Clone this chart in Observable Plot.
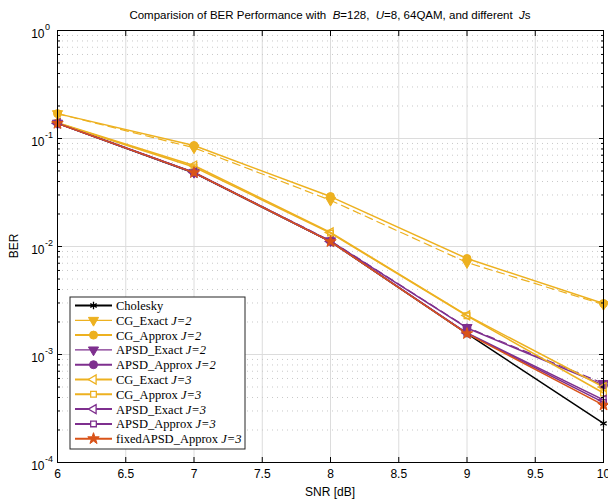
<!DOCTYPE html>
<html><head><meta charset="utf-8">
<script src="https://cdn.jsdelivr.net/npm/d3@7"></script>
<script src="https://cdn.jsdelivr.net/npm/@observablehq/plot@0.6"></script>
<style>body{margin:0;background:#fff} svg{display:block}</style>
</head><body><div id="chart"></div>
<script>
// ---- data ----
const snr = [6, 7, 8, 9, 10];
const cholesky        = [0.138, 0.0480, 0.0111, 0.00156, 0.00023];
const cgExactJ2       = [0.170, 0.0820, 0.0268, 0.00710, 0.00290];
const cgApproxJ2      = [0.170, 0.0861, 0.0290, 0.00774, 0.00297];
const apsdExactJ2     = [0.139, 0.0486, 0.0113, 0.00178, 0.00054];
const apsdApproxJ2    = [0.139, 0.0485, 0.0112, 0.00176, 0.00052];
const cgExactJ3       = [0.140, 0.0562, 0.0135, 0.00230, 0.00050];
const cgApproxJ3      = [0.139, 0.0545, 0.0133, 0.00228, 0.00044];
const apsdExactJ3     = [0.138, 0.0484, 0.0111, 0.00158, 0.00038];
const apsdApproxJ3    = [0.138, 0.0482, 0.0111, 0.00157, 0.00036];
const fixedApsdApproxJ3 = [0.138, 0.0483, 0.0111, 0.00156, 0.00034];

const seriesNames = ["Cholesky", "CG_Exact", "CG_Approx", "APSD_Exact", "APSD_Approx",
  "CG_Exact", "CG_Approx", "APSD_Exact", "APSD_Approx", "fixedAPSD_Approx"];
const seriesJ = ["", "J=2", "J=2", "J=2", "J=2", "J=3", "J=3", "J=3", "J=3", "J=3"];
const seriesValues = [cholesky, cgExactJ2, cgApproxJ2, apsdExactJ2, apsdApproxJ2,
  cgExactJ3, cgApproxJ3, apsdExactJ3, apsdApproxJ3, fixedApsdApproxJ3];

const xTicks = [6, 6.5, 7, 7.5, 8, 8.5, 9, 9.5, 10];
const xTickLabels = ["6", "6.5", "7", "7.5", "8", "8.5", "9", "9.5", "10"];
const yDecades = [1e-4, 1e-3, 1e-2, 1e-1, 1];
const yExponents = ["-4", "-3", "-2", "-1", "0"];
const minorMultipliers = [2, 3, 4, 5, 6, 7, 8, 9];

// ---- styles ----
const BLACK = "#000000", YEL = "#EDB120", PUR = "#7E2F8E", ORG = "#D95319";
const triDown = {draw(c, s) { const R = Math.sqrt(s / Math.PI) * 1.3; c.moveTo(0, R); c.lineTo(-R * 0.866, -R / 2); c.lineTo(R * 0.866, -R / 2); c.closePath(); }};
const triLeft = {draw(c, s) { const R = Math.sqrt(s / Math.PI) * 1.3; c.moveTo(-R, 0); c.lineTo(R / 2, -R * 0.866); c.lineTo(R / 2, R * 0.866); c.closePath(); }};
const styles = [
  {color: BLACK, symbol: "asterisk", filled: false, dash: null, w: 1.5, r: 3.5},
  {color: YEL, symbol: triDown, filled: true, dash: "8,5", w: 1.2, r: 4.5},
  {color: YEL, symbol: "circle", filled: true, dash: null, w: 1.5, r: 4},
  {color: PUR, symbol: triDown, filled: true, dash: "8,5", w: 1.2, r: 4.5},
  {color: PUR, symbol: "circle", filled: true, dash: null, w: 1.5, r: 4},
  {color: YEL, symbol: triLeft, filled: false, dash: null, w: 1.5, r: 4},
  {color: YEL, symbol: "square", filled: false, dash: null, w: 1.5, r: 3.2},
  {color: PUR, symbol: triLeft, filled: false, dash: null, w: 1.5, r: 4},
  {color: PUR, symbol: "square", filled: false, dash: null, w: 1.5, r: 3.2},
  {color: ORG, symbol: "star", filled: true, dash: null, w: 1.5, r: 3.6}
];

const yMinor = yDecades.slice(0, -1).flatMap(d => minorMultipliers.map(m => d * m));

const marks = [
  Plot.gridX(xTicks, {stroke: "#dcdcdc", strokeOpacity: 1, strokeWidth: 1}),
  Plot.gridY(yMinor, {stroke: "#c8c8c8", strokeOpacity: 1, strokeDasharray: "1,4"}),
  Plot.gridY(yDecades, {stroke: "#dcdcdc", strokeOpacity: 1})
];
seriesValues.forEach((vals, i) => {
  const st = styles[i];
  const data = snr.map((x, k) => ({x, y: vals[k]}));
  marks.push(Plot.line(data, {x: "x", y: "y", stroke: st.color, strokeWidth: st.w, strokeDasharray: st.dash}));
});
seriesValues.forEach((vals, i) => {
  const st = styles[i];
  const data = snr.map((x, k) => ({x, y: vals[k]}));
  marks.push(Plot.dot(data, {x: "x", y: "y", symbol: st.symbol, r: st.r,
    fill: st.filled ? st.color : "none", stroke: st.color, strokeWidth: st.filled ? 1 : 1.3}));
});
marks.push(
  Plot.frame({stroke: "#000", strokeWidth: 1}),
  Plot.axisX(xTicks, {anchor: "bottom", tickSize: -5, tickPadding: 12, tickFormat: (d, i) => xTickLabels[i], fontSize: 12, stroke: "#000"}),
  Plot.axisX(xTicks, {anchor: "top", tickSize: -5, tickFormat: () => "", stroke: "#000"}),
  Plot.axisY(yDecades, {anchor: "left", tickSize: -5, tickFormat: () => "", stroke: "#000"}),
  Plot.axisY(yDecades, {anchor: "right", tickSize: -5, tickFormat: () => "", stroke: "#000"}),
  Plot.axisY(yMinor, {anchor: "left", tickSize: -3, tickFormat: () => "", stroke: "#000"}),
  Plot.axisY(yMinor, {anchor: "right", tickSize: -3, tickFormat: () => "", stroke: "#000"}),
  Plot.text(yDecades, {frameAnchor: "left", y: d => d, text: () => "10", textAnchor: "end", dx: -13, dy: 3.5, fontSize: 12, fill: "#000"}),
  Plot.text(yDecades, {frameAnchor: "left", y: d => d, text: (d, i) => yExponents[i], textAnchor: "start", dx: -12.5, dy: -3, fontSize: 9, fill: "#000"})
);

const W = 608, H = 499, ML = 57, MR = 5, MT = 30, MB = 37;
const chart = Plot.plot({
  width: W, height: H,
  marginLeft: ML, marginRight: MR, marginTop: MT, marginBottom: MB,
  style: {fontFamily: "'Liberation Sans', Arial, sans-serif", fontSize: "12px", color: "#000", background: "#fff", overflow: "visible"},
  x: {domain: [6, 10], axis: null, label: null},
  y: {type: "log", domain: [1e-4, 1], axis: null, label: null},
  marks
});
document.getElementById("chart").appendChild(chart);

// ---- title, axis labels, legend ----
const svg = d3.select(chart);
const title = svg.append("text").attr("x", (ML + W - MR) / 2).attr("y", 19)
  .attr("text-anchor", "middle").attr("font-size", 11.5).attr("fill", "#000")
  .attr("font-family", "'Liberation Sans', Arial, sans-serif");
const titleParts = [["Comparision of BER Performance with  ", false], ["B", true], ["=128,  ", false], ["U", true], ["=8, 64QAM, and different  ", false], ["J", true], ["s", false]];
titleParts.forEach(([t, it]) => title.append("tspan").attr("font-style", it ? "italic" : "normal").text(t));

svg.append("text").attr("x", (ML + W - MR) / 2).attr("y", 496).attr("text-anchor", "middle")
  .attr("font-size", 12).attr("fill", "#000").attr("font-family", "'Liberation Sans', Arial, sans-serif").text("SNR [dB]");
svg.append("text").attr("transform", `translate(18,${(MT + H - MB) / 2}) rotate(-90)`).attr("text-anchor", "middle")
  .attr("font-size", 12).attr("fill", "#000").attr("font-family", "'Liberation Sans', Arial, sans-serif").text("BER");

const LX = 70, LY = 297, LW = 175, LH = 152, ROW = 14.8;
const leg = svg.append("g").attr("text-anchor", "start");
leg.append("rect").attr("x", LX).attr("y", LY).attr("width", LW).attr("height", LH)
  .attr("fill", "#fff").attr("stroke", "#262626").attr("stroke-width", 1);
seriesNames.forEach((name, i) => {
  const st = styles[i];
  const cy = LY + 8.5 + i * ROW;
  leg.append("line").attr("x1", LX + 5).attr("x2", LX + 42).attr("y1", cy).attr("y2", cy)
    .attr("stroke", st.color).attr("stroke-width", st.dash ? 1.2 : 2);
  const sym = typeof st.symbol === "string"
    ? {asterisk: d3.symbolAsterisk, circle: d3.symbolCircle, square: d3.symbolSquare, star: d3.symbolStar}[st.symbol]
    : st.symbol;
  leg.append("path").attr("transform", `translate(${LX + 23.5},${cy})`)
    .attr("d", d3.symbol(sym, st.r * st.r * Math.PI)())
    .attr("fill", st.filled ? st.color : "#fff").attr("stroke", st.color).attr("stroke-width", st.filled ? 1 : 1.3);
  const t = leg.append("text").attr("x", LX + 46).attr("y", cy + 4.5).attr("font-size", 12.5)
    .attr("text-anchor", "start")
    .attr("font-family", "'Liberation Serif', 'DejaVu Serif', serif").attr("fill", "#000");
  t.append("tspan").text(name + " ");
  if (seriesJ[i]) t.append("tspan").attr("font-style", "italic").text(seriesJ[i]);
});
</script>
</body></html>
